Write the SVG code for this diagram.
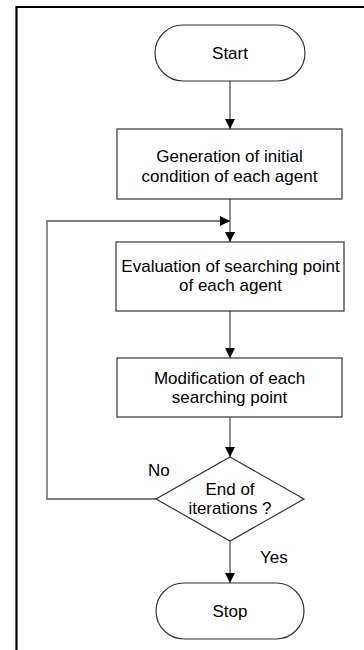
<svg xmlns="http://www.w3.org/2000/svg" width="364" height="650" viewBox="0 0 364 650">
<defs>
<style>
.shape{fill:#fff;stroke:#333;stroke-width:1.2}
.conn{fill:none;stroke:#555;stroke-width:1.3}
.t{font-family:"Liberation Sans",Arial,sans-serif;font-size:17px;fill:#000;text-anchor:middle}
.l{font-family:"Liberation Sans",Arial,sans-serif;font-size:17px;fill:#000}
</style>
<marker id="ah" viewBox="0 0 10 10" refX="10" refY="5" markerWidth="10" markerHeight="10" markerUnits="userSpaceOnUse" orient="auto">
<path d="M0,0 L10,5 L0,10 Z" fill="#000"/>
</marker>
</defs>
<rect width="364" height="650" fill="#fff"/>
<path d="M16.5,650 V7 H364" fill="none" stroke="#000" stroke-width="2.2"/>
<g id="connectors">
<path class="conn" d="M230,81 V129" marker-end="url(#ah)"/>
<path class="conn" d="M230,199 V242" marker-end="url(#ah)"/>
<path class="conn" d="M230,311 V358" marker-end="url(#ah)"/>
<path class="conn" d="M230,417 V457" marker-end="url(#ah)"/>
<path class="conn" d="M230,541 V583" marker-end="url(#ah)"/>
<path class="conn" d="M156,499 H47 V221 H230" marker-end="url(#ah)"/>
<text class="l" x="148" y="475.5">No</text>
<text class="l" x="260" y="563">Yes</text>
</g>
<g id="start">
<rect class="shape" x="155" y="25" width="150" height="56" rx="28" ry="28"/>
<text class="t" x="230" y="59">Start</text>
</g>
<g id="init">
<rect class="shape" x="117" y="129" width="225" height="70"/>
<text class="t" x="229.5" y="161.5">Generation of initial</text>
<text class="t" x="229.5" y="181.5">condition of each agent</text>
</g>
<g id="eval">
<rect class="shape" x="116" y="242" width="228" height="69"/>
<text class="t" x="230.5" y="272">Evaluation of searching point</text>
<text class="t" x="230.5" y="291">of each agent</text>
</g>
<g id="modify">
<rect class="shape" x="117" y="358" width="225" height="59"/>
<text class="t" x="229.5" y="383.5">Modification of each</text>
<text class="t" x="229.5" y="403">searching point</text>
</g>
<g id="decision">
<polygon class="shape" points="230,457 304,499 230,541 156,499"/>
<text class="t" x="230" y="495">End of</text>
<text class="t" x="230" y="514">iterations ?</text>
</g>
<g id="stop">
<rect class="shape" x="156" y="583" width="148" height="56" rx="28" ry="28"/>
<text class="t" x="230" y="617">Stop</text>
</g>
</svg>
